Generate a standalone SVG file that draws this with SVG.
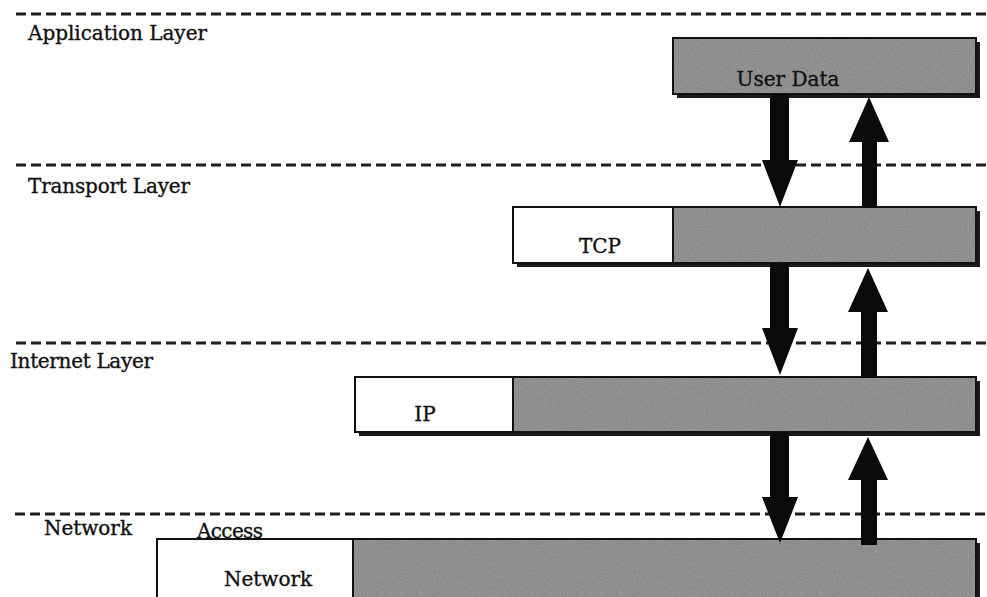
<svg xmlns="http://www.w3.org/2000/svg" width="987" height="597" viewBox="0 0 987 597">
  <style>
    .layer-line { stroke: #1e1e1e; stroke-width: 2.8; stroke-dasharray: 10 5; fill: none; }
    .label { font-family: "DejaVu Serif", "Liberation Serif", serif; font-size: 20px; fill: #111; stroke: #111; stroke-width: 0.35; }
    .hdr { fill: #fff; stroke: #111; stroke-width: 2; }
    .data { fill: url(#grain); stroke: #111; stroke-width: 2; }
    .shadow { fill: #1a1a1a; }
    .arrow { fill: #0a0a0a; }
  </style>
  <defs>
    <filter id="speckle" x="0" y="0" width="100%" height="100%">
      <feTurbulence type="fractalNoise" baseFrequency="0.9" numOctaves="2" seed="3" result="n"/>
      <feColorMatrix in="n" type="matrix" values="0 0 0 0 0.4  0 0 0 0 0.4  0 0 0 0 0.4  0 0 0 -1.6 1.0" result="dots"/>
      <feComposite in="dots" in2="SourceGraphic" operator="in"/>
    </filter>
    <pattern id="grain" patternUnits="userSpaceOnUse" width="200" height="200">
      <rect width="200" height="200" fill="#8a8a8a"/>
      <rect width="200" height="200" fill="#666" filter="url(#speckle)" opacity="0.7"/>
    </pattern>
  </defs>

  <!-- layer boundaries -->
  <g id="layer-lines">
    <line class="layer-line" x1="16" y1="14" x2="987" y2="14"/>
    <line class="layer-line" x1="16" y1="165" x2="987" y2="165"/>
    <line class="layer-line" x1="16" y1="343" x2="987" y2="343"/>
    <line class="layer-line" x1="15" y1="514" x2="987" y2="514"/>
  </g>

  <!-- layer names -->
  <g id="layer-names">
    <text class="label" x="28" y="40" textLength="179">Application Layer</text>
    <text class="label" x="28" y="193" textLength="162">Transport Layer</text>
    <text class="label" x="10" y="368" textLength="143">Internet Layer</text>
    <text class="label" x="44" y="535" textLength="88">Network</text>
    <text class="label" x="197" y="538" textLength="66">Access</text>
  </g>

  <!-- application message -->
  <g id="user-data">
    <rect class="shadow" x="677" y="42" width="303" height="56"/>
    <rect class="data" x="673" y="38" width="303" height="56"/>
    <text class="label" x="788" y="86" text-anchor="middle">User Data</text>
  </g>

  <!-- transport segment -->
  <g id="tcp-segment">
    <rect class="shadow" x="517" y="211" width="463" height="56"/>
    <rect class="data" x="673" y="207" width="303" height="56"/>
    <rect class="hdr" x="513" y="207" width="160" height="56"/>
    <text class="label" x="600" y="253" text-anchor="middle">TCP</text>
  </g>

  <!-- internet datagram -->
  <g id="ip-datagram">
    <rect class="shadow" x="359" y="381" width="621" height="55"/>
    <rect class="data" x="513" y="377" width="463" height="55"/>
    <rect class="hdr" x="355" y="377" width="158" height="55"/>
    <text class="label" x="425" y="421" text-anchor="middle">IP</text>
  </g>

  <!-- network access frame -->
  <g id="network-frame">
    <rect class="shadow" x="161" y="543" width="819" height="60"/>
    <rect class="data" x="353" y="539" width="623" height="62"/>
    <rect class="hdr" x="157" y="539" width="196" height="62"/>
    <text class="label" x="268" y="586" text-anchor="middle">Network</text>
  </g>

  <!-- encapsulation / decapsulation arrows -->
  <g id="connectors">
    <polygon class="arrow" points="770,94 789,94 789,160 798,160 780,207 762,160 770,160"/>
    <polygon class="arrow" points="862,208 877,208 877,142 889,142 869,97 849,142 862,142"/>
    <polygon class="arrow" points="770,263 789,263 789,328 798,328 780,375 762,328 770,328"/>
    <polygon class="arrow" points="861,378 877,378 877,312 888,312 868,268 848,312 861,312"/>
    <polygon class="arrow" points="770,432 789,432 789,497 798,497 780,543 762,497 770,497"/>
    <polygon class="arrow" points="861,545 877,545 877,480 888,480 868,437 848,480 861,480"/>
  </g>
</svg>
